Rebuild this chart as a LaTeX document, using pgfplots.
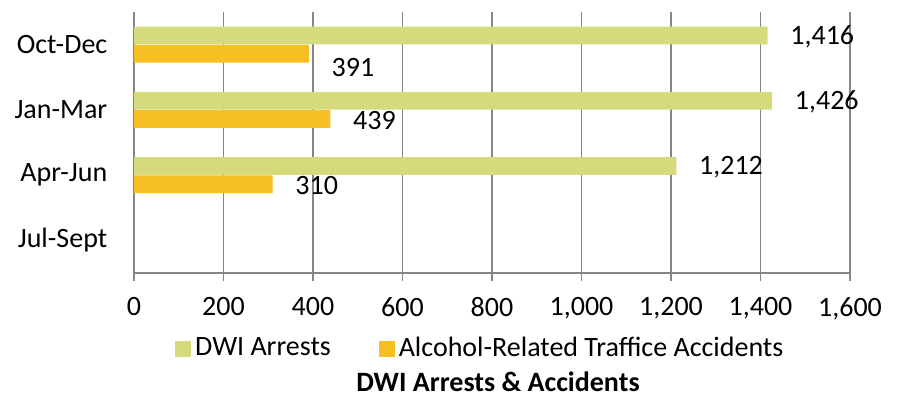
\documentclass[border=0pt]{standalone}
\usepackage{pgfplots}
\usepackage{pgfplotstable}
\pgfplotsset{compat=1.18}
\usepackage{fontspec}
\setmainfont{Carlito}
\definecolor{dwigreen}{RGB}{213,219,125}
\definecolor{accorange}{RGB}{246,191,35}
\definecolor{gridgray}{RGB}{134,134,134}
\pgfplotstableread{
y x dy
3 1416 0
2 1426 0
1 1212 0
}\dwi
\pgfplotstableread{
y x dy
3 391 -6
2 439 0
1 310 0
}\acc
\begin{document}
\fontsize{14}{17}\selectfont
\begin{tikzpicture}[font=\fontsize{14}{17}\selectfont]
\useasboundingbox (0,0) rectangle (448.5pt,-199.5pt);
\begin{axis}[
  at={(67pt,-136.5pt)}, anchor=south west,
  scale only axis, width=358pt, height=130.5pt,
  xmin=0, xmax=1600, ymin=-0.5, ymax=3.5,
  xtick={0,200,...,1600},
  ytick={0,1,2,3},
  yticklabels={Jul-Sept,Apr-Jun,Jan-Mar,Oct-Dec},
  axis lines*=left,
  axis line style={gridgray, line width=0.75pt},
  xmajorgrids, grid style={gridgray, line width=0.75pt},
  xtick style={gridgray, line width=0.75pt},
  tick align=outside, major tick length=4pt,
  ytick style={draw=none},
  /pgf/number format/.cd, 1000 sep={,}, assume math mode=true,
  /pgfplots/.cd,
  xticklabel style={anchor=north, yshift=-3.5pt},
  yticklabel style={anchor=east, xshift=-4.5pt},
  xbar, bar width=0.27,
  legend style={at={(0.485,-0.29)}, anchor=center, draw=none, fill=none,
    legend columns=2, /tikz/every even column/.append style={column sep=22pt},
    font=\fontsize{14}{17}\selectfont},
  legend image code/.code={\fill[#1] (0pt,-4pt) rectangle (8pt,4pt);},
  nodes near coords,
  every node near coord/.append style={anchor=west, xshift=6.5pt, yshift=-0.8pt, black, font=\fontsize{14}{17}\selectfont},
]
\addplot[fill=dwigreen, draw=none, bar shift=0.14]
  table[x=x, y=y] {\dwi};
\addlegendentry{DWI Arrests}
\addplot[fill=accorange, draw=none, bar shift=-0.14,
  visualization depends on={\thisrow{dy}\as\dy},
  every node near coord/.append style={yshift=\dy pt}]
  table[x=x, y=y] {\acc};
\addlegendentry{Alcohol-Related Traffice Accidents}
\end{axis}
\node[font=\bfseries\fontsize{14}{17}\selectfont, anchor=base, inner sep=0pt] at (249pt,-196pt) {DWI Arrests \& Accidents};
\end{tikzpicture}
\end{document}
